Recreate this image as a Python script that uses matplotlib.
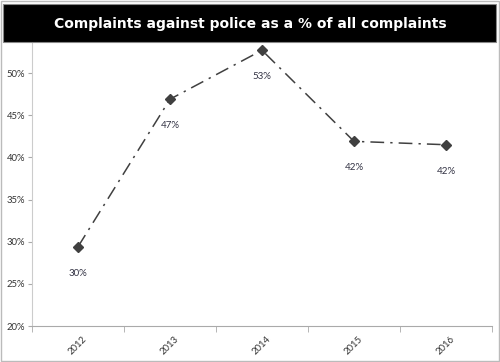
import numpy as np
import matplotlib
matplotlib.use("Agg")
import matplotlib.pyplot as plt
from matplotlib.patches import Rectangle
from matplotlib.ticker import PercentFormatter

years = ['2012', '2013', '2014', '2015', '2016']
share = [0.294, 0.469, 0.527, 0.419, 0.415]
labels = ['30%', '47%', '53%', '42%', '42%']
y_ticks = [0.20, 0.25, 0.30, 0.35, 0.40, 0.45, 0.50]

plt.rcParams['font.family'] = ['Lato', 'DejaVu Sans']

fig = plt.figure(figsize=(5, 3.62), dpi=100)
ax = fig.add_axes([0.064, 0.0994, 0.92, 0.785])

x = np.arange(len(years))
ax.plot(x, share, color='#404040', linestyle=(0, (9, 4, 1.5, 4)), linewidth=1.1,
        marker='D', markersize=5, markerfacecolor='#404040', markeredgecolor='#404040')

for xi, yi, lab in zip(x, share, labels):
    ax.annotate(lab, (xi, yi), xytext=(0, -19), textcoords='offset points',
                ha='center', va='center', fontsize=7, color='#333344')

ax.set_xlim(-0.5, len(years) - 0.5)
ax.set_ylim(0.20, 0.537)
ax.set_yticks(y_ticks)
ax.yaxis.set_major_formatter(PercentFormatter(1.0, decimals=0))
ax.set_xticks(x)
ax.set_xticklabels(years, rotation=45, fontsize=6.8, color='#333333')
ax.set_xticks(np.arange(-0.5, len(years)), minor=True)
ax.tick_params(axis='x', which='major', length=0, pad=6)
ax.tick_params(axis='x', which='minor', length=4, color='#aaaaaa')
ax.tick_params(axis='y', length=3, color='#aaaaaa', labelsize=6.8, labelcolor='#333333', pad=2)

for s in ['top', 'right']:
    ax.spines[s].set_visible(False)
ax.spines['left'].set_color('#cccccc')
ax.spines['bottom'].set_color('#aaaaaa')

# black title band
fig.patches.append(Rectangle((0.006, 0.884), 0.986, 0.105, transform=fig.transFigure,
                             facecolor='black', edgecolor='#888888', linewidth=0.8, zorder=5))
fig.text(0.5, 0.934, 'Complaints against police as a % of all complaints', color='white',
         fontsize=10, fontweight='bold', ha='center', va='center', zorder=6,
         family=['DejaVu Sans'])

# outer frame
fig.patches.append(Rectangle((0.002, 0.003), 0.996, 0.994, transform=fig.transFigure,
                             facecolor='none', edgecolor='#bbbbbb', linewidth=1.0, zorder=4))

plt.savefig('out.png', dpi=100)
